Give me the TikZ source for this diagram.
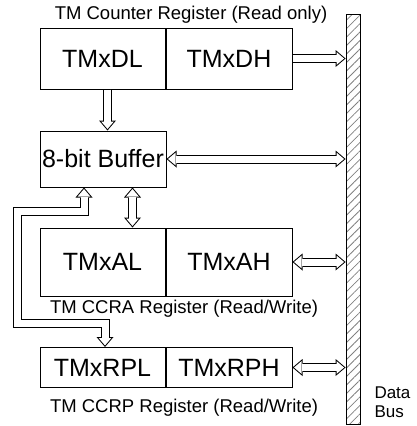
\documentclass[tikz,border=0pt]{standalone}
\usepackage{fontspec}
\setmainfont{Liberation Sans}
\usetikzlibrary{positioning, arrows.meta, patterns.meta}

\begin{document}
\begin{tikzpicture}[
    x=1pt, y=-1pt,
    line width=1pt,
    % Styles for registers, captions and the wide transfer arrows
    reg/.style={rectangle, draw=black, inner sep=0pt, font=\fontsize{25}{29}\selectfont},
    lbl/.style={inner sep=0pt, font=\fontsize{18.5}{22}\selectfont},
    busbar/.style={rectangle, draw=black, inner sep=0pt, pattern={Lines[angle=45, distance=6pt, line width=0.8pt]}, pattern color=gray},
    outhead/.tip={Triangle[length=10pt 0 0, width=17pt 0 0, line width=0pt 0 0]},
    inhead/.tip={Triangle[length=7.46pt 0 0, width=12.68pt 0 0, line width=0pt 0 0]},
    bigarrow/.style={draw=white, line width=7pt, line join=miter, shorten >=1.54pt, -inhead,
                     preaction={draw=black, line width=9pt, line join=miter, shorten >=0pt, -outhead}},
    bigboth/.style={draw=white, line width=7pt, line join=miter, shorten >=1.54pt, shorten <=1.54pt, inhead-inhead,
                    preaction={draw=black, line width=9pt, line join=miter, shorten >=0pt, shorten <=0pt, outhead-outhead}}
]
  \useasboundingbox (0,0) rectangle (417,426);

  % --- DATA BUS ---
  \node[busbar, minimum width=14, minimum height=410] (bus) at (353,219) {};
  \node[lbl, font=\fontsize{17}{19.5}\selectfont, align=left, anchor=north west] (buslbl) at (374,386) {Data\\Bus};

  % --- TM COUNTER REGISTER ---
  \node[reg, minimum width=125, minimum height=61] (dl) at (102.5,58.5) {TMxDL};
  \node[reg, minimum width=126, minimum height=61, right=0pt of dl] (dh) {TMxDH};
  \node[lbl] (cntlbl) at (191,15) {TM Counter Register (Read only)};

  % --- BUFFER ---
  \node[reg, minimum width=126, minimum height=56] (buf) at (103,159) {8-bit Buffer};

  % --- TM CCRA REGISTER ---
  \node[reg, minimum width=125, minimum height=68] (al) at (102.5,262) {TMxAL};
  \node[reg, minimum width=126, minimum height=68, right=0pt of al] (ah) {TMxAH};
  \node[lbl] (ccralbl) at (184,309) {TM CCRA Register (Read/Write)};

  % --- TM CCRP REGISTER ---
  \node[reg, minimum width=125, minimum height=40] (rpl) at (102.5,367.5) {TMxRPL};
  \node[reg, minimum width=126, minimum height=40, right=0pt of rpl] (rph) {TMxRPH};
  \node[lbl] (ccrplbl) at (184,408) {TM CCRP Register (Read/Write)};

  % --- TRANSFERS ---
  \draw[bigarrow] (dh.east) -- (dh.east -| bus.west);
  \draw[bigarrow] ([xshift=5]dl.south) -- ([xshift=5]dl.south |- buf.north);
  \draw[bigboth] (buf.east) -- (buf.east -| bus.west);
  \draw[bigboth] ([xshift=29.5]buf.south) -- ([xshift=29.5]buf.south |- al.north);
  \draw[bigboth] (ah.east) -- (ah.east -| bus.west);
  \draw[bigboth] (rph.east) -- (rph.east -| bus.west);
  % buffer to CCRP, routed round the left side
  \draw[bigboth] ([xshift=-19]buf.south) -- ++(0,24) -| (17.5,323) -| ([xshift=2.5]rpl.north);

\end{tikzpicture}
\end{document}
